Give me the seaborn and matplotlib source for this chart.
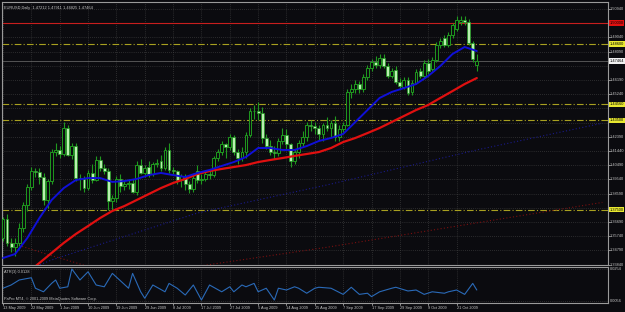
import numpy as np
import pandas as pd
import seaborn as sns
import matplotlib.pyplot as plt

# EURUSD daily bars
opens = [1.3560, 1.3690, 1.3530, 1.3500, 1.3530, 1.3630, 1.3780, 1.3900, 1.4010, 1.4005,
         1.3970, 1.3815, 1.3940, 1.4140, 1.4150, 1.4125, 1.4300, 1.4120, 1.4180, 1.3965,
         1.3960, 1.3895, 1.4000, 1.3950, 1.4085, 1.4030, 1.4010, 1.3810, 1.3830, 1.3960,
         1.3910, 1.3920, 1.3930, 1.3870, 1.4050, 1.4000, 1.4040, 1.3990, 1.4060, 1.4080,
         1.4030, 1.4150, 1.4020, 1.4010, 1.3950, 1.3975, 1.3920, 1.3890, 1.4010, 1.3950,
         1.3960, 1.3990, 1.3985, 1.4100, 1.4140, 1.4190, 1.4170, 1.4240, 1.4140, 1.4095,
         1.4140, 1.4250, 1.4410, 1.4410, 1.4400, 1.4230, 1.4180, 1.4140, 1.4130, 1.4210,
         1.4250, 1.4190, 1.4080, 1.4140, 1.4200, 1.4240, 1.4320, 1.4310, 1.4300, 1.4260,
         1.4320, 1.4300, 1.4330, 1.4240, 1.4290, 1.4320, 1.4540, 1.4560, 1.4590, 1.4560,
         1.4640, 1.4700, 1.4740, 1.4720, 1.4766, 1.4713, 1.4646, 1.4686, 1.4606, 1.4573,
         1.4619, 1.4540, 1.4600, 1.4680, 1.4646, 1.4733, 1.4690, 1.4753, 1.4853, 1.4900,
         1.4853, 1.4920, 1.4960, 1.5010, 1.5020, 1.5005, 1.4866, 1.47212]
highs = [1.3700, 1.3720, 1.3560, 1.3560, 1.3660, 1.3800, 1.3920, 1.4040, 1.4030, 1.4030,
         1.4000, 1.3960, 1.4160, 1.4200, 1.4180, 1.4335, 1.4320, 1.4200, 1.4200, 1.3990,
         1.3975, 1.4020, 1.4060, 1.4110, 1.4110, 1.4060, 1.4030, 1.3850, 1.3980, 1.3990,
         1.3950, 1.3960, 1.3960, 1.4080, 1.4090, 1.4050, 1.4080, 1.4070, 1.4090, 1.4120,
         1.4170, 1.4200, 1.4040, 1.4020, 1.3990, 1.3990, 1.3940, 1.3990, 1.4050, 1.3990,
         1.4010, 1.4010, 1.4110, 1.4160, 1.4210, 1.4200, 1.4260, 1.4250, 1.4160, 1.4170,
         1.4270, 1.4430, 1.4450, 1.4470, 1.4440, 1.4260, 1.4220, 1.4180, 1.4230, 1.4300,
         1.4290, 1.4200, 1.4160, 1.4220, 1.4280, 1.4340, 1.4350, 1.4340, 1.4320, 1.4330,
         1.4370, 1.4350, 1.4380, 1.4320, 1.4340, 1.4560, 1.4590, 1.4620, 1.4610, 1.4660,
         1.4720, 1.4760, 1.4780, 1.4790, 1.4790, 1.4730, 1.4700, 1.4710, 1.4630, 1.4640,
         1.4640, 1.4620, 1.4690, 1.4700, 1.4750, 1.4760, 1.4770, 1.4870, 1.4900, 1.4920,
         1.4940, 1.5000, 1.5045, 1.5050, 1.5045, 1.5030, 1.4880, 1.47911]
lows = [1.3540, 1.3510, 1.3470, 1.3440, 1.3510, 1.3600, 1.3740, 1.3880, 1.3970, 1.3920,
        1.3780, 1.3760, 1.3920, 1.4110, 1.4100, 1.4110, 1.4110, 1.4090, 1.3940, 1.3880,
        1.3870, 1.3880, 1.3930, 1.3940, 1.4010, 1.3990, 1.3750, 1.3750, 1.3800, 1.3870,
        1.3880, 1.3890, 1.3860, 1.3850, 1.3990, 1.3970, 1.3970, 1.3980, 1.4040, 1.4010,
        1.4020, 1.4000, 1.3990, 1.3920, 1.3900, 1.3880, 1.3860, 1.3870, 1.3930, 1.3920,
        1.3940, 1.3960, 1.3970, 1.4080, 1.4120, 1.4100, 1.4150, 1.4120, 1.4060, 1.4080,
        1.4100, 1.4240, 1.4360, 1.4350, 1.4200, 1.4160, 1.4120, 1.4090, 1.4110, 1.4190,
        1.4160, 1.4040, 1.4060, 1.4100, 1.4180, 1.4210, 1.4280, 1.4260, 1.4220, 1.4210,
        1.4280, 1.4240, 1.4210, 1.4210, 1.4270, 1.4310, 1.4500, 1.4530, 1.4530, 1.4540,
        1.4620, 1.4680, 1.4700, 1.4700, 1.4700, 1.4630, 1.4630, 1.4590, 1.4560, 1.4560,
        1.4520, 1.4520, 1.4590, 1.4630, 1.4630, 1.4660, 1.4680, 1.4740, 1.4830, 1.4840,
        1.4840, 1.4900, 1.4950, 1.4990, 1.4990, 1.4850, 1.4740, 1.46825]
closes = [1.3690, 1.3530, 1.3500, 1.3530, 1.3630, 1.3780, 1.3900, 1.4010, 1.4005, 1.3970,
          1.3815, 1.3940, 1.4140, 1.4150, 1.4125, 1.4300, 1.4120, 1.4180, 1.3965, 1.3960,
          1.3895, 1.4000, 1.3950, 1.4085, 1.4030, 1.4010, 1.3810, 1.3830, 1.3960, 1.3910,
          1.3920, 1.3930, 1.3870, 1.4050, 1.4000, 1.4030, 1.3990, 1.4060, 1.4065, 1.4030,
          1.4150, 1.4020, 1.4010, 1.3950, 1.3975, 1.3920, 1.3890, 1.3965, 1.3950, 1.3960,
          1.3990, 1.3985, 1.4100, 1.4140, 1.4190, 1.4170, 1.4240, 1.4140, 1.4095, 1.4140,
          1.4250, 1.4410, 1.4410, 1.4400, 1.4230, 1.4180, 1.4140, 1.4130, 1.4210, 1.4250,
          1.4190, 1.4080, 1.4140, 1.4200, 1.4240, 1.4320, 1.4310, 1.4300, 1.4260, 1.4320,
          1.4300, 1.4330, 1.4240, 1.4290, 1.4320, 1.4540, 1.4560, 1.4590, 1.4560, 1.4640,
          1.4700, 1.4740, 1.4720, 1.4766, 1.4713, 1.4646, 1.4680, 1.4606, 1.4580, 1.4619,
          1.4532, 1.4600, 1.4670, 1.4646, 1.4733, 1.4680, 1.4753, 1.4853, 1.4880, 1.4853,
          1.4920, 1.4987, 1.5020, 1.5020, 1.5005, 1.4866, 1.4760, 1.47464]

# moving averages, sampled every 3rd bar
ma_idx = list(range(0, 118, 3))
ma_fast = [1.3428, 1.3455, 1.3562, 1.3696, 1.3816, 1.3896, 1.3950, 1.3963, 1.3963, 1.3937,
           1.3943, 1.3957, 1.3983, 1.3997, 1.3983, 1.3970, 1.3997, 1.4017, 1.4044, 1.4070,
           1.4104, 1.4164, 1.4164, 1.4151, 1.4151, 1.4177, 1.4211, 1.4231, 1.4258, 1.4338,
           1.4418, 1.4499, 1.4539, 1.4565, 1.4592, 1.4646, 1.4713, 1.4793, 1.4840, 1.4813]
ma_slow = [1.3210, 1.3268, 1.3328, 1.3395, 1.3462, 1.3529, 1.3589, 1.3642, 1.3696, 1.3743,
           1.3776, 1.3816, 1.3856, 1.3896, 1.3930, 1.3957, 1.3990, 1.4010, 1.4024, 1.4037,
           1.4050, 1.4070, 1.4084, 1.4097, 1.4111, 1.4124, 1.4137, 1.4164, 1.4204, 1.4231,
           1.4264, 1.4298, 1.4338, 1.4378, 1.4418, 1.4452, 1.4499, 1.4545, 1.4592, 1.4632]

# dotted long averages (sparse readings)
dot_blue_idx = [0, 12, 48, 80, 117, 148]
dot_blue = [1.3280, 1.3415, 1.3729, 1.3917, 1.4151, 1.4330]
dot_red_idx = [0, 11, 30, 80, 148]
dot_red = [1.3546, 1.3452, 1.3300, 1.3500, 1.3800]

# ATR panel readings
atr_idx = [0, 2, 4, 7, 8, 10, 12, 13, 14, 16, 17, 19, 21, 23, 25, 27, 31, 32, 34, 35,
           37, 40, 41, 43, 45, 47, 49, 51, 54, 56, 57, 59, 60, 62, 63, 65, 67, 68, 70, 72,
           73, 75, 77, 78, 81, 84, 86, 88, 90, 91, 93, 96, 97, 100, 102, 104, 106, 109, 110, 112,
           114, 116, 117]
atr_vals = [0.0135, 0.0155, 0.0186, 0.0200, 0.0135, 0.0113, 0.0165, 0.0186, 0.0135, 0.0144,
            0.0254, 0.0186, 0.0237, 0.0155, 0.0144, 0.0227, 0.0135, 0.0227, 0.0113, 0.0073,
            0.0155, 0.0113, 0.0165, 0.0135, 0.0093, 0.0155, 0.0062, 0.0155, 0.0113, 0.0144,
            0.0113, 0.0155, 0.0144, 0.0165, 0.0113, 0.0135, 0.0062, 0.0135, 0.0124, 0.0144,
            0.0135, 0.0104, 0.0135, 0.0141, 0.0135, 0.0097, 0.0141, 0.0097, 0.0104, 0.0083,
            0.0113, 0.0135, 0.0141, 0.0118, 0.0124, 0.0097, 0.0113, 0.0104, 0.0113, 0.0124,
            0.0097, 0.0165, 0.0124]

date_labels = ["13 May 2009", "22 May 2009", "1 Jun 2009", "10 Jun 2009", "19 Jun 2009",
               "29 Jun 2009", "8 Jul 2009", "17 Jul 2009", "27 Jul 2009", "5 Aug 2009",
               "14 Aug 2009", "25 Aug 2009", "7 Sep 2009", "17 Sep 2009", "29 Sep 2009",
               "9 Oct 2009", "21 Oct 2009"]

price_labels = ["1.50940", "1.49990", "1.49040", "1.48090", "1.47140", "1.46190", "1.45240",
                "1.44290", "1.43340", "1.42390", "1.41440", "1.40490", "1.39540", "1.38590",
                "1.37640", "1.36690", "1.35740", "1.34790", "1.33840"]

red_level = 1.5000
yellow_levels = [1.4860, 1.4456, 1.4350, 1.3750]
bid = 1.47464

BG = "#0b0b0f"
FG = "#c8c8c8"
GRID = "#4a4a4a"
CANDLE = "#1f9a1f"
BEAR_FILL = "#b9f0b0"
FS = 2.8

sns.set_style("dark", {"axes.facecolor": BG, "figure.facecolor": BG})
plt.rcParams["font.family"] = ["Liberation Sans", "DejaVu Sans"]

fig = plt.figure(figsize=(6.25, 3.12), dpi=100, facecolor=BG)
W, H = 625, 312
ax = fig.add_axes([2 / W, 1 - 265 / H, 606 / W, 263 / H])
ax2 = fig.add_axes([2 / W, 1 - 303 / H, 606 / W, 36 / H])

n = len(closes)
idx = np.arange(n)
df = pd.DataFrame({"bar": idx, "open": opens, "high": highs, "low": lows, "close": closes})

ymin, ymax = 1.33813, 1.51409
xmin, xmax = -0.25, 149.4
for a in (ax, ax2):
    a.set_facecolor(BG)
    a.set_xlim(xmin, xmax)
    a.set_xticks([])
    a.set_yticks([])
    for s in a.spines.values():
        s.set_color("#9a9a9a")
        s.set_linewidth(0.8)
ax.set_ylim(ymin, ymax)
ax2.set_ylim(0.00436, 0.02664)

# grid
tick_bars = [7 * k for k in range(len(date_labels))]
pvals = [float(p) for p in price_labels]
for a in (ax, ax2):
    for b in tick_bars:
        a.axvline(b, color=GRID, lw=0.5, ls=(0, (1, 2)), zorder=0)
for p in pvals:
    ax.axhline(p, color=GRID, lw=0.5, ls=(0, (1, 2)), zorder=0)
for v in [0.0254, 0.0056]:
    ax2.axhline(v, color=GRID, lw=0.5, ls=(0, (1, 2)), zorder=0)

# level lines
ax.axhline(red_level, color="#c81e1e", lw=0.8, zorder=1)
for lv in yellow_levels:
    ax.axhline(lv, color="#a8a020", lw=0.8, ls=(0, (6, 2, 1, 2)), zorder=1)
ax.axhline(bid, color="#707070", lw=0.5, zorder=1)

# dotted long averages
sns.lineplot(x=dot_blue_idx, y=dot_blue, ax=ax, color="#1a1a8a", lw=0.8,
             linestyle=(0, (1, 2)), zorder=2)
sns.lineplot(x=dot_red_idx, y=dot_red, ax=ax, color="#7a1010", lw=0.8,
             linestyle=(0, (1, 2)), zorder=2)

# candles
up = df["close"] >= df["open"]
ax.vlines(df["bar"], df["low"], df["high"], color=CANDLE, lw=0.8, zorder=3)
body_lo = df[["open", "close"]].min(axis=1)
body_h = (df["close"] - df["open"]).abs().clip(lower=0.0002)
ax.bar(df["bar"][up], body_h[up], bottom=body_lo[up], width=0.7,
       color=BG, edgecolor=CANDLE, lw=0.7, zorder=4)
ax.bar(df["bar"][~up], body_h[~up], bottom=body_lo[~up], width=0.7,
       color=BEAR_FILL, edgecolor=CANDLE, lw=0.5, zorder=4)

# moving averages
sns.lineplot(x=ma_idx, y=ma_slow, ax=ax, color="#e01010", lw=1.6, zorder=5)
sns.lineplot(x=ma_idx, y=ma_fast, ax=ax, color="#1010d8", lw=1.4, zorder=5)

# ATR
sns.lineplot(x=atr_idx, y=atr_vals, ax=ax2, color="#2a6ab8", lw=0.8)

# right side price scale
ytr = ax.get_yaxis_transform()
boxes = [red_level] + yellow_levels + [bid]
px_per = 263 / (ymax - ymin)
for lab, p in zip(price_labels, pvals):
    if any(abs(p - b) * px_per < 6 for b in boxes):
        continue
    ax.text(1.003, p, lab, transform=ytr, fontsize=FS, color=FG, va="center",
            ha="left", clip_on=False)
    ax.plot([1.0, 1.003], [p, p], transform=ytr, color=FG, lw=0.5, clip_on=False)

def box_label(level, txt, bg, fg="black"):
    ax.text(1.003, level, txt, transform=ytr, fontsize=FS, color=fg, va="center",
            ha="left", clip_on=False,
            bbox=dict(boxstyle="square,pad=0.15", fc=bg, ec="none"))

box_label(red_level, "1.50000", "#e01010")
for lv in yellow_levels:
    box_label(lv, "%.5f" % lv, "#e8e830")
box_label(bid, "%.5f" % bid, "#f0f0f0")

ytr2 = ax2.get_yaxis_transform()
for v, lab in [(0.0254, "0.0254"), (0.0056, "0.0056")]:
    ax2.text(1.003, v, lab, transform=ytr2, fontsize=FS, color=FG, va="center",
             ha="left", clip_on=False)

# date labels
xtr = ax2.get_xaxis_transform()
for b, lab in zip(tick_bars, date_labels):
    ax2.text(b, -0.14, lab, transform=xtr, fontsize=FS, color=FG, va="center",
             ha="left", clip_on=False)
    ax2.plot([b, b], [0, -0.06], transform=xtr, color=FG, lw=0.5, clip_on=False)

# header texts
ax.text(0.004, 0.985, "EURUSD,Daily  1.47212 1.47911 1.46825 1.47464", transform=ax.transAxes,
        fontsize=FS, color=FG, va="top", ha="left")
ax2.text(0.004, 0.93, "ATR(3) 0.0128", transform=ax2.transAxes, fontsize=FS, color=FG,
         va="top", ha="left")
ax2.text(0.004, 0.06, "PaPro MT4, \u00a9 2001-2009 MetaQuotes Software Corp.",
         transform=ax2.transAxes, fontsize=FS, color=FG, va="bottom", ha="left")

fig.savefig("out.png", dpi=100, facecolor=BG)
